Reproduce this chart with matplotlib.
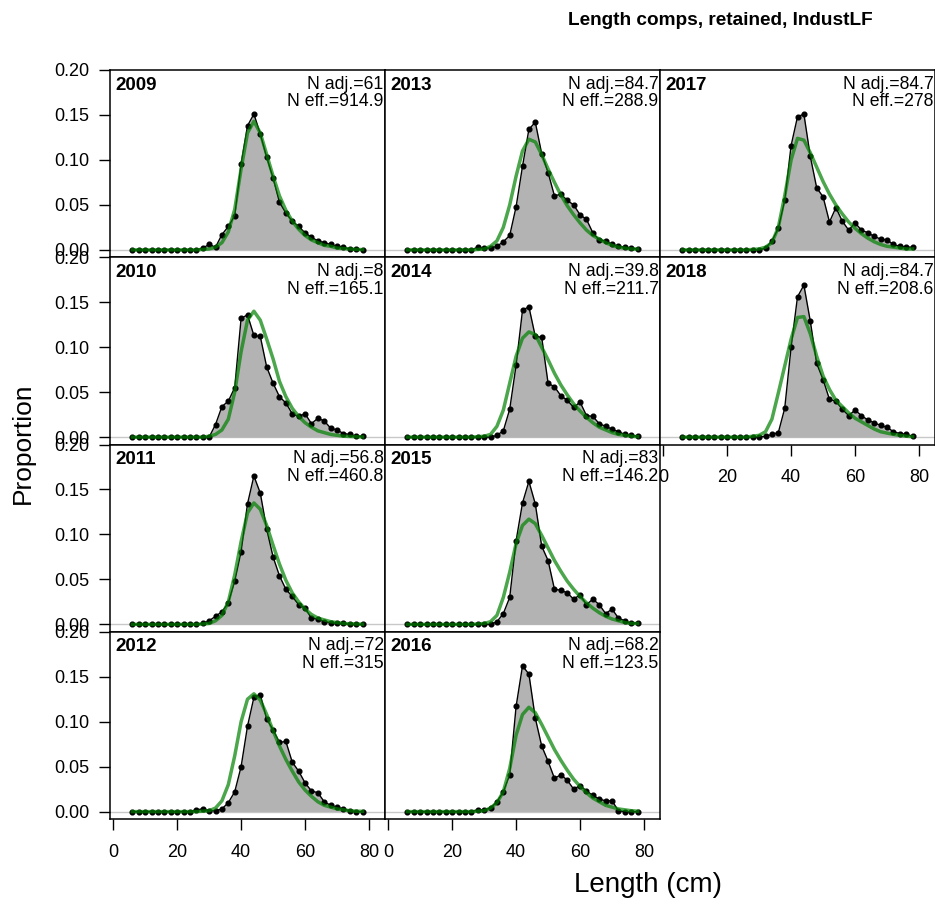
import matplotlib
matplotlib.use("Agg")
import matplotlib.pyplot as plt

plt.rcParams["font.family"] = ["Liberation Sans", "DejaVu Sans"]

# ---------------------------------------------------------------------------
# data
# ---------------------------------------------------------------------------
length_bins = [6, 8, 10, 12, 14, 16, 18, 20, 22, 24, 26, 28, 30, 32, 34, 36,
               38, 40, 42, 44, 46, 48, 50, 52, 54, 56, 58, 60, 62, 64, 66, 68,
               70, 72, 74, 76, 78]

years = [2009, 2010, 2011, 2012, 2013, 2014, 2015, 2016, 2017, 2018]
n_adj = ["61", "8", "56.8", "72", "84.7", "39.8", "83", "68.2", "84.7", "84.7"]
n_eff = ["914.9", "165.1", "460.8", "315", "288.9", "211.7", "146.2",
         "123.5", "278", "208.6"]

obs_2009 = [0] * 11 + [0.002, 0.006, 0.003, 0.017, 0.026, 0.038, 0.096, 0.138,
                       0.151, 0.129, 0.103, 0.080, 0.053, 0.041, 0.032, 0.026,
                       0.019, 0.014, 0.010, 0.008, 0.006, 0.004, 0.003, 0.001,
                       0.001, 0.0]
exp_2009 = [0] * 11 + [0.0005, 0.001, 0.003, 0.008, 0.020, 0.045, 0.090, 0.130,
                       0.143, 0.130, 0.106, 0.082, 0.060, 0.044, 0.032, 0.023,
                       0.016, 0.011, 0.008, 0.005, 0.004, 0.002, 0.0015, 0.001,
                       0.0005, 0.0003]

obs_2010 = [0] * 13 + [0.014, 0.034, 0.040, 0.055, 0.132, 0.136, 0.113, 0.112,
                       0.078, 0.060, 0.045, 0.038, 0.026, 0.023, 0.026, 0.015,
                       0.021, 0.018, 0.010, 0.008, 0.004, 0.003, 0.001, 0.001]
exp_2010 = [0] * 12 + [0.001, 0.003, 0.008, 0.020, 0.050, 0.095, 0.130, 0.140,
                       0.130, 0.109, 0.087, 0.062, 0.045, 0.032, 0.023, 0.016,
                       0.011, 0.007, 0.005, 0.003, 0.002, 0.001, 0.0007, 0.0004,
                       0.0002]

obs_2011 = [0] * 11 + [0.001, 0.004, 0.009, 0.014, 0.024, 0.048, 0.081, 0.134,
                       0.165, 0.146, 0.106, 0.075, 0.054, 0.039, 0.031, 0.022,
                       0.018, 0.007, 0.006, 0.003, 0.002, 0.001, 0.001, 0.0,
                       0.0, 0.0]
exp_2011 = [0] * 11 + [0.0005, 0.001, 0.004, 0.010, 0.025, 0.055, 0.092, 0.124,
                       0.135, 0.128, 0.110, 0.088, 0.067, 0.049, 0.035, 0.025,
                       0.017, 0.011, 0.007, 0.005, 0.003, 0.002, 0.001, 0.0007,
                       0.0004, 0.0002]

obs_2012 = [0] * 10 + [0.002, 0.003, 0.001, 0.001, 0.003, 0.010, 0.022, 0.050,
                       0.095, 0.127, 0.130, 0.103, 0.091, 0.077, 0.078, 0.055,
                       0.045, 0.032, 0.023, 0.021, 0.011, 0.007, 0.005, 0.003,
                       0.001, 0.0, 0.0]
exp_2012 = [0] * 11 + [0.0005, 0.001, 0.004, 0.012, 0.030, 0.062, 0.100, 0.125,
                       0.131, 0.124, 0.108, 0.090, 0.073, 0.058, 0.045, 0.033,
                       0.024, 0.017, 0.011, 0.007, 0.005, 0.003, 0.002, 0.001,
                       0.0005, 0.0003]

obs_2013 = [0] * 11 + [0.003, 0.002, 0.002, 0.004, 0.009, 0.016, 0.048, 0.093,
                       0.134, 0.142, 0.107, 0.086, 0.060, 0.062, 0.055, 0.050,
                       0.039, 0.034, 0.019, 0.011, 0.010, 0.006, 0.004, 0.003,
                       0.002, 0.001]
exp_2013 = [0] * 11 + [0.0005, 0.001, 0.004, 0.010, 0.025, 0.050, 0.082, 0.110,
                       0.123, 0.120, 0.106, 0.090, 0.075, 0.061, 0.049, 0.039,
                       0.030, 0.022, 0.016, 0.012, 0.008, 0.005, 0.003, 0.002,
                       0.001, 0.001]

obs_2014 = [0] * 14 + [0.002, 0.007, 0.031, 0.080, 0.141, 0.145, 0.112, 0.111,
                       0.060, 0.056, 0.046, 0.041, 0.033, 0.039, 0.024, 0.023,
                       0.015, 0.012, 0.009, 0.006, 0.003, 0.002, 0.001]
exp_2014 = [0] * 11 + [0.0005, 0.001, 0.003, 0.012, 0.030, 0.060, 0.090, 0.110,
                       0.117, 0.114, 0.100, 0.086, 0.071, 0.058, 0.047, 0.037,
                       0.029, 0.022, 0.016, 0.011, 0.008, 0.005, 0.003, 0.002,
                       0.001, 0.0005]

obs_2015 = [0] * 14 + [0.003, 0.012, 0.030, 0.093, 0.135, 0.159, 0.134, 0.087,
                       0.071, 0.039, 0.038, 0.035, 0.028, 0.033, 0.022, 0.028,
                       0.022, 0.012, 0.017, 0.007, 0.004, 0.001, 0.002]
exp_2015 = [0] * 11 + [0.0005, 0.001, 0.003, 0.010, 0.030, 0.058, 0.090, 0.110,
                       0.117, 0.112, 0.099, 0.085, 0.071, 0.059, 0.048, 0.039,
                       0.031, 0.024, 0.018, 0.013, 0.009, 0.006, 0.004, 0.002,
                       0.001, 0.001]

obs_2016 = [0] * 11 + [0.002, 0.002, 0.004, 0.011, 0.022, 0.041, 0.117, 0.162,
                       0.153, 0.104, 0.073, 0.056, 0.037, 0.041, 0.035, 0.025,
                       0.029, 0.023, 0.018, 0.014, 0.012, 0.012, 0.001, 0.0,
                       0.0, 0.0]
exp_2016 = [0] * 11 + [0.0005, 0.001, 0.004, 0.010, 0.022, 0.048, 0.085, 0.108,
                       0.116, 0.110, 0.097, 0.083, 0.069, 0.057, 0.046, 0.036,
                       0.028, 0.021, 0.015, 0.011, 0.007, 0.005, 0.003, 0.002,
                       0.001, 0.0005]

obs_2017 = [0] * 13 + [0.002, 0.010, 0.024, 0.055, 0.116, 0.148, 0.151, 0.104,
                       0.069, 0.059, 0.031, 0.047, 0.032, 0.022, 0.030, 0.022,
                       0.019, 0.015, 0.012, 0.011, 0.006, 0.004, 0.003, 0.003]
exp_2017 = [0] * 11 + [0.0005, 0.001, 0.003, 0.008, 0.025, 0.060, 0.100, 0.124,
                       0.122, 0.108, 0.092, 0.076, 0.062, 0.050, 0.040, 0.031,
                       0.024, 0.018, 0.013, 0.009, 0.006, 0.004, 0.003, 0.002,
                       0.001, 0.001]

obs_2018 = [0] * 13 + [0.001, 0.003, 0.005, 0.032, 0.100, 0.156, 0.169, 0.129,
                       0.082, 0.064, 0.042, 0.040, 0.031, 0.024, 0.030, 0.024,
                       0.019, 0.016, 0.013, 0.011, 0.006, 0.004, 0.003, 0.001]
exp_2018 = [0] * 11 + [0.001, 0.002, 0.006, 0.020, 0.049, 0.079, 0.109, 0.133,
                       0.134, 0.115, 0.090, 0.068, 0.053, 0.041, 0.034, 0.027,
                       0.021, 0.017, 0.013, 0.009, 0.006, 0.0045, 0.003, 0.002,
                       0.001, 0.0005]

observed = [obs_2009, obs_2010, obs_2011, obs_2012, obs_2013,
            obs_2014, obs_2015, obs_2016, obs_2017, obs_2018]
expected = [exp_2009, exp_2010, exp_2011, exp_2012, exp_2013,
            exp_2014, exp_2015, exp_2016, exp_2017, exp_2018]

# ---------------------------------------------------------------------------
# layout (pixels of a 935 x 909 figure)
# ---------------------------------------------------------------------------
W, H = 935, 909
LEFT, COL_W = 110, 275
TOP, ROW_H = 70, 187.25
NROW = 4

FS_TICK = 13
FS_YEAR = 13.5
FS_N = 12.7

fig = plt.figure(figsize=(W / 100, H / 100), dpi=100)

green = (0, 0.5, 0, 0.7)

for k, yr in enumerate(years):
    col, row = divmod(k, NROW)
    x0 = LEFT + col * COL_W
    y0 = TOP + (row + 1) * ROW_H
    ax = fig.add_axes([x0 / W, 1 - y0 / H, COL_W / W, ROW_H / H])

    obs = observed[k]
    exp = expected[k]
    ax.axhline(0, color="#c8c8c8", lw=1.0, zorder=1)
    ax.fill_between(length_bins, 0, obs, color="#b3b3b3", lw=0, zorder=2)
    ax.plot(length_bins, obs, color="black", lw=1.0, marker="o", ms=3.4,
            zorder=3)
    ax.plot(length_bins, exp, color=green, lw=2.5, zorder=4)

    ax.set_xlim(-1, 85)
    ax.set_ylim(-0.0082, 0.20)
    for s in ax.spines.values():
        s.set_linewidth(1.1)

    ax.text(0.018, 0.965, str(yr), transform=ax.transAxes, ha="left",
            va="top", fontsize=FS_YEAR, fontweight="bold")
    ax.text(0.995, 0.97, f"N adj.={n_adj[k]}\nN eff.={n_eff[k]}",
            transform=ax.transAxes, ha="right", va="top", fontsize=FS_N,
            linespacing=1.05)

    if col == 0:
        ax.set_yticks([0, 0.05, 0.10, 0.15, 0.20])
        ax.set_yticklabels(["0.00", "0.05", "0.10", "0.15", "0.20"])
        ax.tick_params(axis="y", direction="out", length=8, width=1.0,
                       pad=7, labelsize=FS_TICK)
    else:
        ax.set_yticks([])

    last = (k == len(years) - 1) or row == NROW - 1
    if last:
        ax.set_xticks([0, 20, 40, 60, 80])
        ax.tick_params(axis="x", direction="out", length=8, width=1.0,
                       pad=10, labelsize=FS_TICK)
        for lab in ax.get_xticklabels():
            lab.set_clip_on(False)
    else:
        ax.set_xticks([])

fig.text(720 / W, 1 - 25 / H, "Length comps, retained, IndustLF",
         ha="center", va="baseline", fontsize=13.7, fontweight="bold")
fig.text(23 / W, 1 - 443 / H, "Proportion", rotation=90, ha="center",
         va="center", fontsize=19)
fig.text(648 / W, 1 - 885 / H, "Length (cm)", ha="center", va="center",
         fontsize=20)

fig.savefig("out.png", dpi=100, facecolor="white")
